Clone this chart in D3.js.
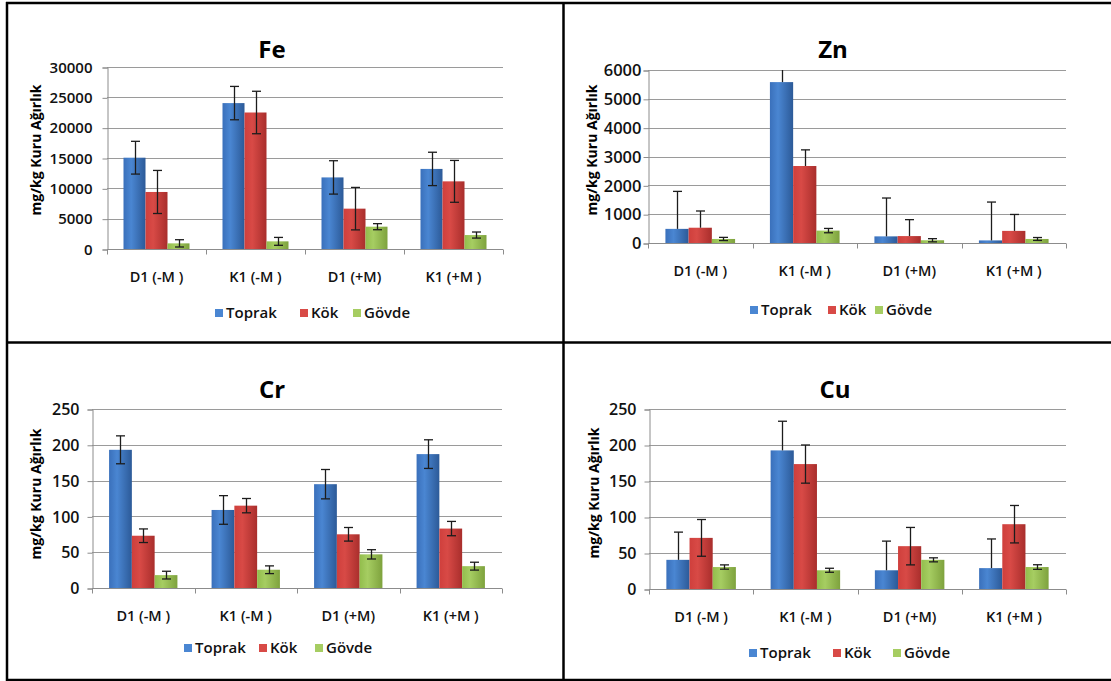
<!DOCTYPE html>
<html>
<head>
<meta charset="utf-8">
<script src="https://cdn.jsdelivr.net/npm/d3@7"></script>
<style>
  html, body { margin: 0; padding: 0; background: #fff; }
  svg { display: block; font-family: "Open Sans", "DejaVu Sans", sans-serif; }
</style>
</head>
<body>
<svg id="chart" width="1111" height="681"></svg>
<script>
// shared categories / series
const categories = ["D1 (-M )", "K1 (-M )", "D1 (+M)", "K1 (+M )"];
const seriesNames = ["Toprak", "Kök", "Gövde"];

// Fe (means per series, std errors per series)
const feToprak = [15050, 24050, 11800, 13200];
const feKok    = [9400, 22500, 6650, 11150];
const feGovde  = [930, 1260, 3680, 2300];
const feToprakErr = [2700, 2750, 2750, 2750];
const feKokErr    = [3550, 3500, 3500, 3450];
const feGovdeErr  = [600, 650, 500, 500];
const feTicks = [0, 5000, 10000, 15000, 20000, 25000, 30000];

// Zn
const znToprak = [490, 5580, 230, 90];
const znKok    = [530, 2670, 240, 420];
const znGovde  = [140, 430, 95, 140];
const znToprakErr = [1300, 450, 1330, 1330];
const znKokErr    = [580, 560, 570, 570];
const znGovdeErr  = [55, 75, 55, 50];
const znTicks = [0, 1000, 2000, 3000, 4000, 5000, 6000];

// Cr
const crToprak = [193, 109, 145, 187];
const crKok    = [73, 115, 75, 83];
const crGovde  = [18, 25.5, 47, 30.5];
const crToprakErr = [19.5, 20, 20.5, 20];
const crKokErr    = [9.5, 10, 9.5, 10];
const crGovdeErr  = [5.4, 5.4, 6.5, 5.5];
const crTicks = [0, 50, 100, 150, 200, 250];

// Cu
const cuToprak = [40.5, 192.5, 26, 29];
const cuKok    = [71, 173.5, 59.5, 90];
const cuGovde  = [30.5, 26, 40.5, 30.5];
const cuToprakErr = [38.5, 40.5, 40.5, 40.5];
const cuKokErr    = [25.5, 26.5, 26, 26];
const cuGovdeErr  = [3, 2.8, 2.8, 3.2];
const cuTicks = [0, 50, 100, 150, 200, 250];

const colors = [
  ["#3a70bb", "#4a86d2", "#2c5a98"],
  ["#cf3f3c", "#d84a46", "#a92e2c"],
  ["#92bd4c", "#a6cd62", "#7ea23d"]
];

const panels = [
  { title: "Fe", values: [feToprak, feKok, feGovde], errors: [feToprakErr, feKokErr, feGovdeErr],
    errMode: ["both", "both", "both"], ticks: feTicks,
    plot: { x0: 107, x1: 503, y0: 67, y1: 249 }, titlePos: [272, 58], ylabX: 36, ylabY: 150,
    tickFont: 15, tickPad: 10, legendY: 313, legendX: [215, 300, 353] },
  { title: "Zn", values: [znToprak, znKok, znGovde], errors: [znToprakErr, znKokErr, znGovdeErr],
    errMode: ["plus", "plus", "both"], ticks: znTicks,
    plot: { x0: 648, x1: 1066, y0: 70, y1: 243 }, titlePos: [833, 58], ylabX: 592, ylabY: 150,
    tickFont: 16.5, tickPad: 2, legendY: 310, legendX: [750, 828, 875] },
  { title: "Cr", values: [crToprak, crKok, crGovde], errors: [crToprakErr, crKokErr, crGovdeErr],
    errMode: ["both", "both", "both"], ticks: crTicks,
    plot: { x0: 92, x1: 502, y0: 409, y1: 588 }, titlePos: [272, 398], ylabX: 36, ylabY: 494,
    tickFont: 16, tickPad: 8, legendY: 648, legendX: [184, 259, 315] },
  { title: "Cu", values: [cuToprak, cuKok, cuGovde], errors: [cuToprakErr, cuKokErr, cuGovdeErr],
    errMode: ["plus", "both", "both"], ticks: cuTicks,
    plot: { x0: 649, x1: 1066, y0: 409, y1: 589 }, titlePos: [835, 398], ylabX: 594, ylabY: 493,
    tickFont: 16, tickPad: 8, legendY: 653, legendX: [749, 833, 893] }
];

const svg = d3.select("#chart");

// bar gradients
const defs = svg.append("defs");
colors.forEach((c, i) => {
  const g = defs.append("linearGradient").attr("id", "grad" + i)
    .attr("x1", 0).attr("x2", 1).attr("y1", 0).attr("y2", 0);
  g.append("stop").attr("offset", "0%").attr("stop-color", c[0]);
  g.append("stop").attr("offset", "35%").attr("stop-color", c[1]);
  g.append("stop").attr("offset", "100%").attr("stop-color", c[2]);
});

// table borders
const borders = svg.append("g").attr("stroke", "#000").attr("stroke-width", 2.5);
borders.append("line").attr("x1", 7).attr("x2", 7).attr("y1", 2).attr("y2", 681);
borders.append("line").attr("x1", 6).attr("x2", 1111).attr("y1", 3).attr("y2", 3);
borders.append("line").attr("x1", 563.5).attr("x2", 563.5).attr("y1", 2).attr("y2", 681);
borders.append("line").attr("x1", 6).attr("x2", 1111).attr("y1", 342.5).attr("y2", 342.5);
borders.append("line").attr("x1", 6).attr("x2", 1111).attr("y1", 680).attr("y2", 680);

panels.forEach(p => drawPanel(p));

function drawPanel(p) {
  const g = svg.append("g");
  const { x0, x1, y0, y1 } = p.plot;

  const x = d3.scaleBand().domain(categories).range([x0, x1])
    .paddingInner(1 / 3).paddingOuter(1 / 6);
  const xs = d3.scaleBand().domain(seriesNames).range([0, x.bandwidth()]);
  const y = d3.scaleLinear().domain([0, d3.max(p.ticks)]).range([y1, y0]);

  // gridlines
  g.append("g").selectAll("line").data(p.ticks.filter(t => t > 0)).join("line")
    .attr("x1", x0).attr("x2", x1)
    .attr("y1", d => Math.round(y(d)) + 0.5).attr("y2", d => Math.round(y(d)) + 0.5)
    .attr("stroke", "#9a9a9a").attr("stroke-width", 1);

  // y axis
  const ya = g.append("g").attr("transform", `translate(${x0 + 0.5},0.5)`)
    .call(d3.axisLeft(y).tickValues(p.ticks).tickSize(5).tickPadding(p.tickPad).tickFormat(d3.format("d")));
  ya.select(".domain").attr("stroke", "#8c8c8c");
  ya.selectAll(".tick line").attr("stroke", "#8c8c8c");
  ya.selectAll(".tick text").attr("fill", "#111").style("font-size", p.tickFont + "px")
    .style("font-weight", 600).style("font-family", "'Open Sans', sans-serif");

  // x axis baseline and category dividers
  const base = Math.round(y(0)) + 0.5;
  g.append("line").attr("x1", x0).attr("x2", x1).attr("y1", base).attr("y2", base)
    .attr("stroke", "#8c8c8c");
  g.append("g").selectAll("line").data(d3.range(categories.length + 1)).join("line")
    .attr("x1", i => Math.round(x0 + i * x.step()) + 0.5)
    .attr("x2", i => Math.round(x0 + i * x.step()) + 0.5)
    .attr("y1", base).attr("y2", base + 5).attr("stroke", "#8c8c8c");

  g.append("g").selectAll("text").data(categories).join("text")
    .attr("x", d => x(d) + x.bandwidth() / 2).attr("y", y1 + 28).attr("dy", "0.35em")
    .attr("text-anchor", "middle").attr("fill", "#111")
    .style("font-size", "14.5px").style("font-weight", 600)
    .text(d => d);

  // bars
  const rows = [];
  seriesNames.forEach((s, si) => {
    categories.forEach((c, ci) => {
      rows.push({ s, si, c, v: p.values[si][ci], e: p.errors[si][ci], mode: p.errMode[si] });
    });
  });

  g.append("g").selectAll("rect").data(rows).join("rect")
    .attr("x", d => x(d.c) + xs(d.s)).attr("width", xs.bandwidth())
    .attr("y", d => y(d.v)).attr("height", d => y(0) - y(d.v))
    .attr("fill", d => `url(#grad${d.si})`);

  // error bars
  const ymax = d3.max(p.ticks);
  const eb = g.append("g").attr("stroke", "#1c1c1c").attr("stroke-width", 1.3);
  rows.forEach(d => {
    const cx = Math.round(x(d.c) + xs(d.s) + xs.bandwidth() / 2) + 0.5;
    const hi = Math.min(d.v + d.e, ymax);
    const lo = d.mode === "both" ? Math.max(d.v - d.e, 0) : d.v;
    eb.append("line").attr("x1", cx).attr("x2", cx).attr("y1", y(hi)).attr("y2", y(lo));
    if (d.v + d.e <= ymax) {
      eb.append("line").attr("x1", cx - 4.5).attr("x2", cx + 4.5).attr("y1", y(hi)).attr("y2", y(hi));
    }
    if (d.mode === "both") {
      eb.append("line").attr("x1", cx - 4.5).attr("x2", cx + 4.5).attr("y1", y(lo)).attr("y2", y(lo));
    }
  });

  // title
  g.append("text").attr("x", p.titlePos[0]).attr("y", p.titlePos[1])
    .attr("text-anchor", "middle").attr("fill", "#000")
    .style("font-size", "24px").style("font-weight", 700).text(p.title);

  // y label
  g.append("text")
    .attr("transform", `translate(${p.ylabX},${p.ylabY}) rotate(-90)`)
    .attr("text-anchor", "middle").attr("dy", "0.35em").attr("fill", "#000")
    .style("font-size", "14px").style("font-weight", 700)
    .text("mg/kg Kuru Ağırlık");

  // legend
  const lg = g.append("g");
  seriesNames.forEach((s, i) => {
    lg.append("rect").attr("x", p.legendX[i]).attr("y", p.legendY - 4)
      .attr("width", 8).attr("height", 8).attr("fill", colors[i][1]);
    lg.append("text").attr("x", p.legendX[i] + 11).attr("y", p.legendY).attr("dy", "0.35em")
      .attr("fill", "#111").style("font-size", "15px").style("font-weight", 600).text(s);
  });
}
</script>
</body>
</html>
